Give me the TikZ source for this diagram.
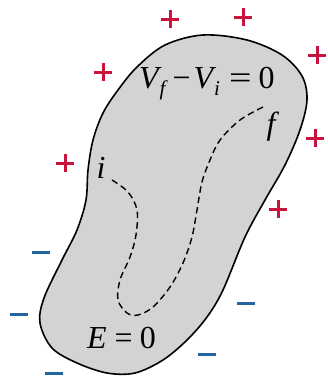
\documentclass[tikz,border=0pt]{standalone}
\usepackage{fontspec}
\setmainfont{Liberation Serif}
\newcommand{\subit}[1]{\raisebox{-7pt}{\fontsize{21}{22}\selectfont\itshape #1}}
\begin{document}
\begin{tikzpicture}[x=1pt,y=-1pt,
  plusc/.style={draw=plusred,line width=3pt},
  minusc/.style={draw=minusblue,line width=3pt},
  lbl/.style={font=\fontsize{32}{34}\selectfont,inner sep=0pt}]
\definecolor{plusred}{RGB}{200,20,60}
\definecolor{minusblue}{RGB}{35,100,160}
\definecolor{blobfill}{RGB}{211,211,211}
\useasboundingbox (0,0) rectangle (327,380);
% conductor
\draw[fill=blobfill,line width=1.6pt] plot[smooth cycle,tension=0.55] coordinates {
 (203,35) (247,40) (282,55) (302,76) (307,100) (300,130) (285,165) (265,200)
 (245,237) (223,290) (207,317) (187,340) (163,360) (135,373) (107,373) (77,363)
 (52,348) (40,323) (44,298) (62,260) (77,230) (86,200) (88,170) (93,140)
 (103,113) (118,90) (137,67) (165,45)};
% dashed path
\draw[dashed,dash pattern=on 6.5pt off 4pt,line width=1.4pt] plot[smooth,tension=0.55] coordinates {
 (112,180) (128,192) (137,210) (136,235) (130,257) (120,280) (118,300) (127,313)
 (138,315) (153,307) (170,287) (183,263) (192,237) (197,210) (202,182) (210,160)
 (220,140) (240,120) (263,107)};
% labels
\node[lbl,anchor=base west] (vf) at (139,88)
  {\itshape V\kern1pt\subit{f}\kern7pt\upshape−\kern3pt\itshape V\kern1pt\subit{i}\kern9pt\upshape\scalebox{1.25}[1]{=}\kern7pt 0};
\node[lbl] (fl) at (271,127) {\itshape f};
\node[lbl] (il) at (101,168) {\itshape i};
\node[lbl,anchor=base west] (e0) at (87,348) {\itshape E\upshape\kern8pt=\kern7pt0};
% plus signs
\foreach \x/\y in {170/19,243/17,317/55,103/72,315/138,65/163,278/209}{
  \draw[plusc] (\x-9,\y) -- (\x+9,\y) (\x,\y-9) -- (\x,\y+9);}
% minus signs
\foreach \x/\y in {41/252,19/314,54/373,246/303,207/354}{
  \draw[minusc] (\x-9,\y) -- (\x+9,\y);}
\end{tikzpicture}
\end{document}
